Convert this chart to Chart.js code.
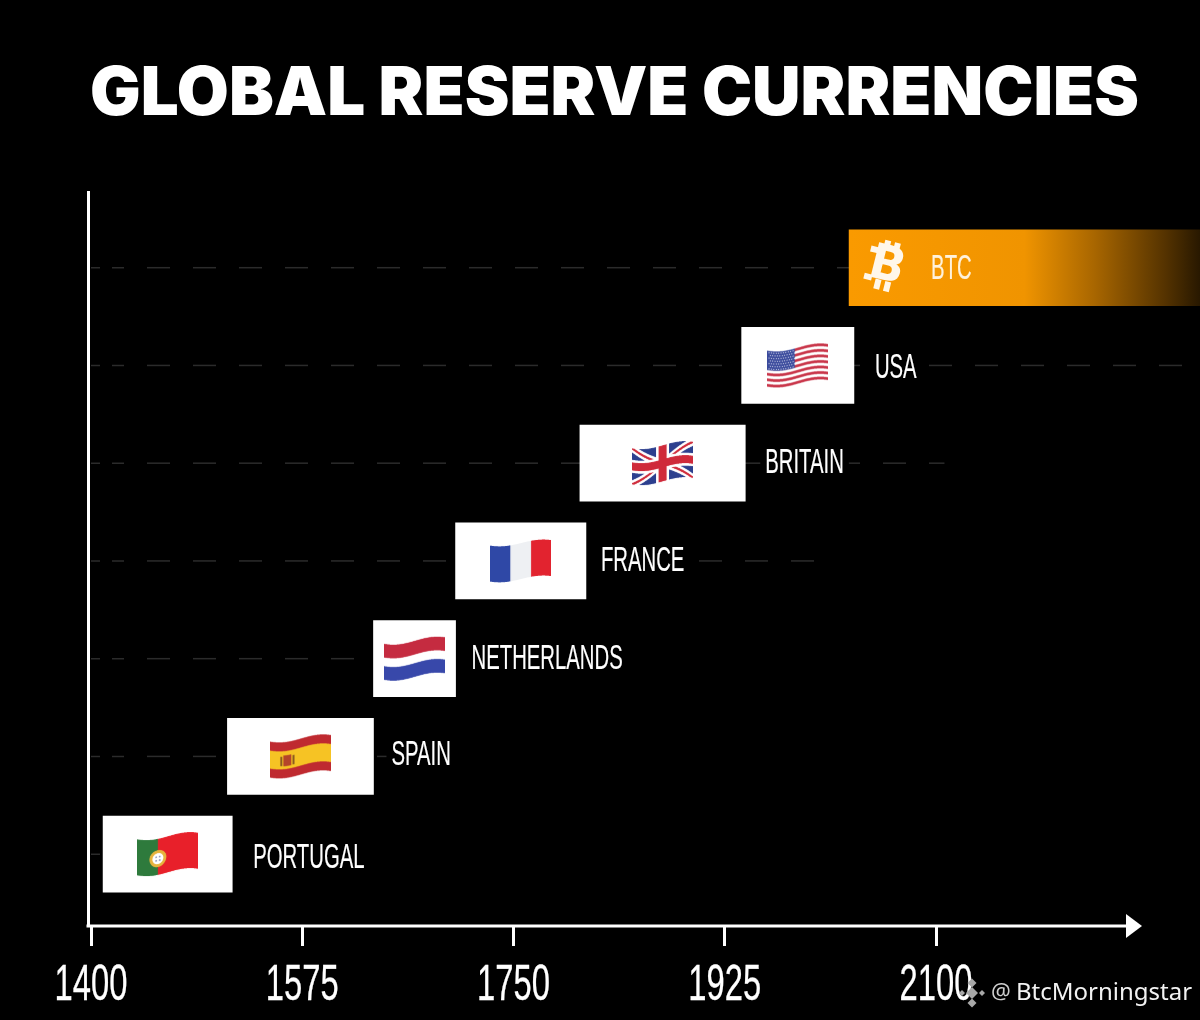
<!DOCTYPE html>
<html>
<head>
<meta charset="utf-8">
<title>Global Reserve Currencies</title>
<script src="https://cdn.jsdelivr.net/npm/chart.js@4/dist/chart.umd.min.js"></script>
<style>
  html, body { margin: 0; padding: 0; background: #000; }
  canvas { display: block; }
</style>
</head>
<body>
<canvas id="chart" width="1200" height="1020"></canvas>
<script>
// 圖表數據 (years)
const categories = ['PORTUGAL', 'SPAIN', 'NETHERLANDS', 'FRANCE', 'BRITAIN', 'USA', 'BTC'];
const startYears = [1410, 1513, 1634, 1702, 1805, 1939, 2028];
const endYears = [1517, 1634, 1702, 1810, 1942, 2032, 2320];
const tickYears = [1400, 1575, 1750, 1925, 2100];
// where each dashed guide stops
const guideEnds = [1410, 1649, 1634, 2004, 2107, 2315, 2319];

const labelGaps = [21, 18, 16, 15, 20, 21, 0];
const labelNudges = [3, -2, 0, -1, -1, 2, 1];
const narrowFont = '"Liberation Sans", sans-serif';

// squeezed text, the reference uses a very condensed face
function narrowText(ctx, text, x, y, size, squeeze, align, color, weight) {
    ctx.save();
    ctx.translate(x, y);
    ctx.scale(squeeze, 1);
    ctx.font = size + 'px ' + narrowFont;
    ctx.textAlign = align;
    ctx.textBaseline = 'middle';
    ctx.fillStyle = color;
    ctx.strokeStyle = color;
    ctx.lineWidth = weight;
    ctx.fillText(text, 0, 0);
    ctx.strokeText(text, 0, 0);
    ctx.restore();
}

function paintPortugal(c, w, h) {
    c.fillStyle = '#e8202a'; c.fillRect(0, 0, w, h);
    c.fillStyle = '#2e7a3c'; c.fillRect(0, 0, w * 0.34, h);
    c.fillStyle = '#e6b43c';
    c.beginPath(); c.arc(w * 0.34, h * 0.55, 8.5, 0, Math.PI * 2); c.fill();
    c.fillStyle = '#fff';
    c.beginPath(); c.arc(w * 0.34, h * 0.55, 5.5, 0, Math.PI * 2); c.fill();
    c.fillStyle = '#8c97b8';
    [[-2.5, -2.5], [1, -2.5], [-2.5, 1], [1, 1]].forEach(p => c.fillRect(w * 0.34 + p[0], h * 0.55 + p[1], 1.6, 1.6));
}

function paintSpain(c, w, h) {
    c.fillStyle = '#bf2a30'; c.fillRect(0, 0, w, h);
    c.fillStyle = '#f6c324'; c.fillRect(0, h * 0.25, w, h * 0.5);
    c.fillStyle = '#b5442a'; c.fillRect(w * 0.22, h * 0.37, w * 0.13, h * 0.3);
    c.fillStyle = '#8a5a20'; c.fillRect(w * 0.17, h * 0.4, 2, h * 0.26); c.fillRect(w * 0.37, h * 0.4, 2, h * 0.26);
}

function paintNetherlands(c, w, h) {
    c.fillStyle = '#c52b40'; c.fillRect(0, 0, w, h * 0.38);
    c.fillStyle = '#3848aa'; c.fillRect(0, h * 0.62, w, h * 0.38);
}

function paintFrance(c, w, h) {
    c.fillStyle = '#eef0f3'; c.fillRect(0, 0, w, h);
    c.fillStyle = '#2f48a6'; c.fillRect(0, 0, w * 0.33, h);
    c.fillStyle = '#e2232f'; c.fillRect(w * 0.67, 0, w * 0.33, h);
}

function paintBritain(c, w, h) {
    c.fillStyle = '#2c3f8e'; c.fillRect(0, 0, w, h);
    c.lineCap = 'butt';
    const cross = (color, lw) => {
        c.strokeStyle = color; c.lineWidth = lw;
        c.beginPath(); c.moveTo(0, 0); c.lineTo(w, h); c.moveTo(w, 0); c.lineTo(0, h); c.stroke();
    };
    cross('#fff', 7);
    cross('#cf2a3a', 2.2);
    c.fillStyle = '#fff';
    c.fillRect(w / 2 - 6.5, 0, 13, h); c.fillRect(0, h / 2 - 6.5, w, 13);
    c.fillStyle = '#cf2a3a';
    c.fillRect(w / 2 - 4, 0, 8, h); c.fillRect(0, h / 2 - 4, w, 8);
}

function paintUsa(c, w, h) {
    const stripe = h / 13;
    for (let i = 0; i < 13; i += 2) {
        c.fillStyle = '#c9364a';
        c.fillRect(0, i * stripe, w, stripe);
    }
    c.fillStyle = '#3a4a9c'; c.fillRect(0, 0, w * 0.45, stripe * 7);
    c.fillStyle = '#e8ebf7';
    for (let r = 0; r < 7; r++) {
        for (let s = 0; s < 11; s++) {
            c.fillRect(1.3 + s * 2.4 + (r % 2) * 1.2, 1.3 + r * 2.7, 1, 1);
        }
    }
}

const flagPainters = {
    PORTUGAL: paintPortugal,
    SPAIN: paintSpain,
    NETHERLANDS: paintNetherlands,
    FRANCE: paintFrance,
    BRITAIN: paintBritain,
    USA: paintUsa
};

// paints the flag flat, bends it column by column on a big canvas, then scales it down
function drawFlag(ctx, name, cx, cy) {
    const w = 61, h = 36, res = 4, pad = 6;
    const flat = document.createElement('canvas');
    flat.width = w * res;
    flat.height = h * res;
    const c = flat.getContext('2d');
    c.scale(res, res);
    flagPainters[name](c, w, h);

    const bent = document.createElement('canvas');
    bent.width = w * res;
    bent.height = (h + pad * 2) * res;
    const b = bent.getContext('2d');
    const amp = name === 'FRANCE' ? 3.4 : 4;
    for (let col = 0; col < flat.width; col++) {
        const t = col / flat.width;
        const dy = amp * Math.cos(Math.PI * (t - 0.15) / 0.72);
        b.drawImage(flat, col, 0, 1, flat.height, col, Math.round((pad + dy) * res), 1, flat.height);
    }
    ctx.save();
    ctx.imageSmoothingEnabled = true;
    ctx.imageSmoothingQuality = 'high';
    ctx.drawImage(bent, cx - w / 2, cy - h / 2 - pad, w, h + pad * 2);
    ctx.restore();
}

function drawBitcoinMark(ctx, cx, cy) {
    ctx.save();
    ctx.translate(cx, cy);
    ctx.rotate(14 * Math.PI / 180);
    ctx.fillStyle = '#fff7ea';
    ctx.font = '900 50px Roboto, sans-serif';
    ctx.textAlign = 'center';
    ctx.textBaseline = 'middle';
    ctx.fillText('B', 1, 2);
    [-7, 3].forEach(x => {
        ctx.fillRect(x, -25, 6, 9);
        ctx.fillRect(x, 15, 6, 10);
    });
    ctx.fillRect(-19, -16, 8, 6);
    ctx.fillRect(-19, 12, 8, 6);
    ctx.restore();
}

function drawWatermark(ctx) {
    ctx.save();
    ctx.fillStyle = '#a8a8a8';
    [[972, 993, 6], [962, 993, 3], [982, 993, 3], [972, 983, 4.5], [972, 1003, 4.5]].forEach(d => {
        ctx.beginPath();
        ctx.moveTo(d[0] - d[2], d[1]);
        ctx.lineTo(d[0], d[1] - d[2]);
        ctx.lineTo(d[0] + d[2], d[1]);
        ctx.lineTo(d[0], d[1] + d[2]);
        ctx.closePath();
        ctx.fill();
    });
    ctx.textBaseline = 'middle';
    ctx.textAlign = 'left';
    ctx.font = '22px "Noto Sans", sans-serif';
    ctx.fillStyle = '#cfcfcf';
    ctx.fillText('@', 991, 993);
    ctx.font = '24px "Noto Sans", sans-serif';
    ctx.fillStyle = '#f2f2f2';
    ctx.fillText('BtcMorningstar', 1016, 993);
    ctx.restore();
}

const guidePlugin = {
    id: 'guides',
    beforeDatasetsDraw(chart) {
        const { ctx, scales: { x, y } } = chart;
        ctx.save();
        ctx.strokeStyle = '#2b2b2b';
        ctx.lineWidth = 1.5;
        guideEnds.forEach((end, i) => {
            const py = y.getPixelForValue(i);
            const endX = x.getPixelForValue(end);
            // two short stubs next to the axis, then the regular dashes
            ctx.setLineDash([]);
            ctx.beginPath();
            ctx.moveTo(91, py);
            ctx.lineTo(100, py);
            ctx.moveTo(112, py);
            ctx.lineTo(124, py);
            ctx.stroke();
            if (endX > 147) {
                ctx.setLineDash([23, 23]);
                ctx.beginPath();
                ctx.moveTo(147, py);
                ctx.lineTo(endX, py);
                ctx.stroke();
            }
        });
        ctx.restore();
    }
};

const decorationPlugin = {
    id: 'decoration',
    afterDatasetsDraw(chart) {
        const { ctx, chartArea, scales: { x, y } } = chart;

        categories.forEach((name, i) => {
            const py = y.getPixelForValue(i);
            const left = x.getPixelForValue(startYears[i]);
            const right = x.getPixelForValue(endYears[i]);
            const isBtc = name === 'BTC';
            if (isBtc) {
                drawBitcoinMark(ctx, left + 37, py - 2);
            } else {
                drawFlag(ctx, name, (left + right) / 2, py);
            }
            const labelX = isBtc ? left + 82 : right + labelGaps[i];
            const squeeze = 0.58;
            ctx.font = '35px ' + narrowFont;
            const textW = ctx.measureText(name).width * squeeze;
            if (!isBtc) {
                ctx.fillStyle = '#000';
                ctx.fillRect(labelX - 5, py - 18, textW + 10, 36);
            }
            narrowText(ctx, name, labelX, py + 1 + labelNudges[i], 35, squeeze, 'left', isBtc ? '#fff2dc' : '#fff', 0.2);
        });

        // x axis line with its arrow head
        const axisY = chartArea.bottom;
        ctx.save();
        ctx.strokeStyle = '#fff';
        ctx.lineWidth = 3;
        ctx.beginPath();
        ctx.moveTo(chartArea.left - 1.5, axisY);
        ctx.lineTo(1128, axisY);
        ctx.stroke();
        ctx.fillStyle = '#fff';
        ctx.beginPath();
        ctx.moveTo(1126, axisY - 12);
        ctx.lineTo(1142, axisY);
        ctx.lineTo(1126, axisY + 12);
        ctx.closePath();
        ctx.fill();
        ctx.restore();

        // tick labels, positions from the x scale
        tickYears.forEach(v => {
            narrowText(ctx, String(v), x.getPixelForValue(v), 986, 50, 0.655, 'center', '#fff', 0.3);
        });

        drawWatermark(ctx);
    }
};

function barColor(context) {
    const chart = context.chart;
    const x = chart.scales.x;
    if (categories[context.dataIndex] !== 'BTC' || !x) return '#fff';
    const g = chart.ctx.createLinearGradient(x.getPixelForValue(startYears[6]), 0, 1200, 0);
    g.addColorStop(0, '#fa9a00');
    g.addColorStop(0.5, '#f09400');
    g.addColorStop(0.7, '#a86600');
    g.addColorStop(0.9, '#553300');
    g.addColorStop(1, '#281800');
    return g;
}

function renderChart() {
    const chartElement = document.getElementById('chart');
    new Chart(chartElement, {
        type: 'bar',
        data: {
            labels: categories,
            datasets: [{
                label: 'Reserve currency period',
                data: categories.map((c, i) => ({ x: [startYears[i], endYears[i]], y: i })),
                backgroundColor: barColor,
                borderWidth: 0,
                borderSkipped: false,
                barThickness: 76
            }]
        },
        options: {
            indexAxis: 'y',
            responsive: false,
            animation: false,
            devicePixelRatio: 1,
            layout: { padding: { left: 29, right: 0, top: 54, bottom: 74 } },
            plugins: {
                legend: { display: false },
                tooltip: { enabled: false },
                title: {
                    display: true,
                    text: 'GLOBAL RESERVE CURRENCIES',
                    color: '#fff',
                    font: { family: 'Inter, sans-serif', weight: '900', size: 67.2, lineHeight: 1.2 },
                    padding: { top: 0, bottom: 58 }
                }
            },
            scales: {
                x: {
                    type: 'linear',
                    min: 1397.5,
                    max: 2318.7,
                    afterBuildTicks: scale => { scale.ticks = tickYears.map(v => ({ value: v })); },
                    ticks: { display: false },
                    border: { display: false },
                    grid: { drawOnChartArea: false, drawTicks: true, tickLength: 20, color: '#fff', lineWidth: 3 }
                },
                y: {
                    type: 'linear',
                    offset: false,
                    min: -0.735,
                    max: 6.768,
                    afterFit: scale => { scale.width = 59; },
                    ticks: { display: false },
                    border: { display: true, color: '#fff', width: 3 },
                    grid: { display: false, offset: false }
                }
            }
        },
        plugins: [guidePlugin, decorationPlugin]
    });
}

document.addEventListener('DOMContentLoaded', renderChart);
</script>
</body>
</html>
